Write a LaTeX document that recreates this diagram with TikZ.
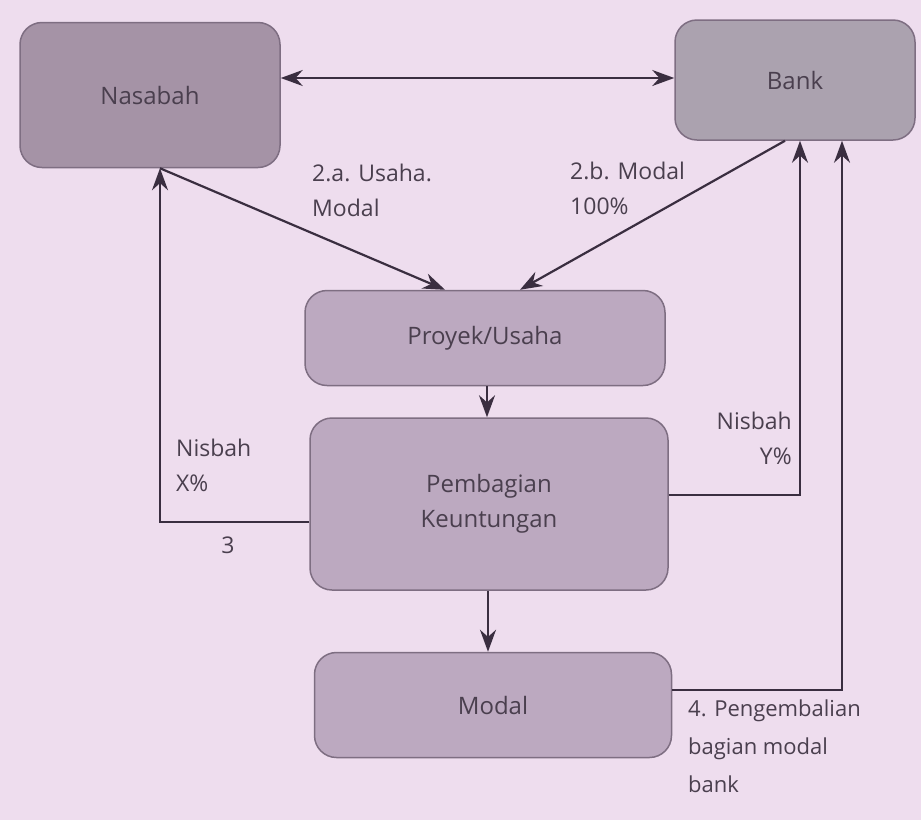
\documentclass[tikz,border=0pt]{standalone}
\usepackage{fontspec}
\setmainfont{Open Sans}
\usetikzlibrary{arrows.meta}
\definecolor{bg}{HTML}{EEDDEE}
\definecolor{boxA}{HTML}{A593A6}
\definecolor{boxB}{HTML}{ABA2AF}
\definecolor{boxC}{HTML}{BCA9C0}
\definecolor{edge}{HTML}{7E6E82}
\definecolor{ln}{HTML}{3A2E40}
\definecolor{txt}{HTML}{4A3F4E}
\tikzset{
  box/.style={draw=edge, line width=1.5pt, rounded corners=22pt, align=center, text=txt,
    font=\fontsize{24}{35}\selectfont},
  conn/.style={draw=ln, line width=2.2pt, -{Stealth[length=22pt,width=16pt]}},
  dconn/.style={draw=ln, line width=2.2pt, {Stealth[length=22pt,width=16pt]}-{Stealth[length=22pt,width=16pt]}},
  lbl/.style={text=txt, font=\fontsize{23}{35}\selectfont, inner sep=0pt}
}
\begin{document}
\begin{tikzpicture}[x=1pt,y=-1pt]
\fill[bg] (0,0) rectangle (921,820);
\useasboundingbox (0,0) rectangle (921,820);

\node[box, fill=boxA, minimum width=260pt, minimum height=145pt] (nas) at (150,95) {Nasabah};
\node[box, fill=boxB, minimum width=240pt, minimum height=120pt] (bank) at (795,80) {Bank};
\node[box, fill=boxC, minimum width=360pt, minimum height=95pt] (pro) at (485,338) {Proyek/Usaha};
\node[box, fill=boxC, minimum width=358pt, minimum height=172pt] (pk) at (489,504) {Pembagian\\Keuntungan};
\node[box, fill=boxC, minimum width=357pt, minimum height=105pt] (mod) at (493,705) {Modal};

% double arrow between Nasabah and Bank
\draw[dconn] ([yshift=17pt]nas.east) -- ([yshift=2pt]bank.west);

% 2.a and 2.b
\draw[conn] ([xshift=10pt]nas.south) -- ([xshift=-40pt]pro.north);
\draw[conn] ([xshift=-10pt]bank.south) -- ([xshift=35pt]pro.north);

% vertical flow
\draw[conn] ([xshift=2pt]pro.south) -- ([xshift=2pt]pro.south |- pk.north);
\draw[conn] ([xshift=-1pt]pk.south) -- ([xshift=-1pt]pk.south |- mod.north);

% Nisbah X%
\coordinate (c1) at (160,522);
\draw[conn] ([yshift=-18pt]pk.west) -- (c1) -- (c1 |- nas.south);
% Nisbah Y%
\coordinate (c2) at (800,495);
\draw[conn] ([yshift=9pt]pk.east) -- (c2) -- (c2 |- bank.south);
% 4. Pengembalian
\coordinate (c3) at (842,690);
\draw[conn] ([yshift=15pt]mod.east) -- (c3) -- (c3 |- bank.south);

% labels
\node[lbl, anchor=west, align=left] (la) at (312,190) {2.a. Usaha.\\Modal};
\node[lbl, anchor=west, align=left] (lb) at (570,188) {2.b. Modal\\100\%};
\node[lbl, anchor=west, align=left] (lx) at (176,465) {Nisbah\\X\%};
\node[lbl, anchor=center] (l3) at (228,545) {3};
\node[lbl, anchor=east, align=right] (ly) at (792,438) {Nisbah\\Y\%};
\node[lbl, anchor=north west, align=left, font=\fontsize{22}{38}\selectfont] (l4) at (688,700) {4. Pengembalian\\bagian modal\\bank};
\end{tikzpicture}
\end{document}
